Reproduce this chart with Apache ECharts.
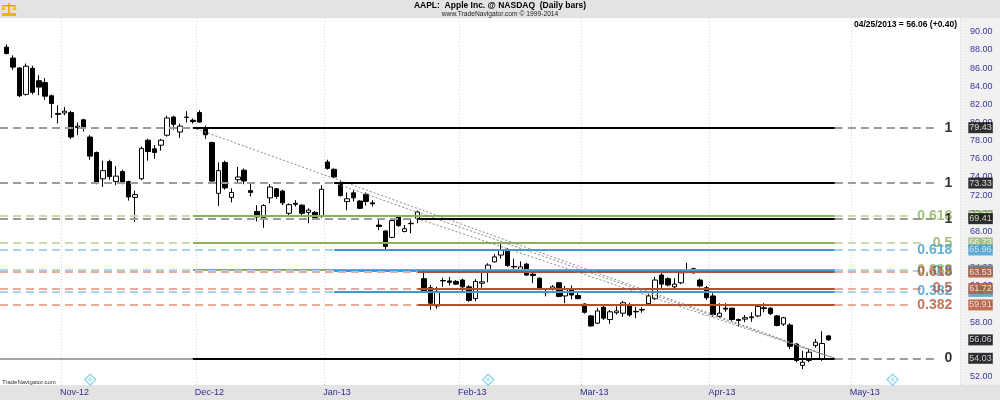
<!DOCTYPE html>
<html>
<head>
<meta charset="utf-8">
<script src="https://cdn.jsdelivr.net/npm/echarts@6/dist/echarts.min.js"></script>
<style>html,body{margin:0;padding:0;background:#fff}#c{width:1000px;height:400px}</style>
</head>
<body>
<div id="c"></div>
<script>
// ---------- data ----------
const tickerSymbol = 'AAPL';
const companyName = 'Apple Inc.';
const exchangeName = 'NASDAQ';
const barType = 'Daily bars';
const siteName = 'www.TradeNavigator.com';
const copyrightText = '\u00a9 1999-2014';
const brandText = 'TradeNavigator.com';

const sessionFirst = '2012-10-17';
const sessionLast = '2013-05-23';
const holidays = ['2012-10-29','2012-10-30','2012-11-22','2012-12-25','2013-01-01','2013-01-21','2013-02-18','2013-03-29','2013-05-27'];

const opens = [88.3,87.1,86.0,83.1,85.97,84.6,84.4,82.95,81.0,81.05,81.1,79.45,80.3,78.4,76.7,73.8,75.7,73.5,74.6,73.5,71.75,73.8,78.05,77.1,77.5,78.6,80.6,78.95,80.55,80.25,
81.1,79.43,77.8,72.2,75.6,71.75,73.7,74.75,72.5,70.2,69.5,71.7,72.7,72.45,70.0,71.1,70.9,70.1,70.1,69.75,
75.65,74.85,73.3,71.3,72.25,71.35,72.1,71.15,68.7,68.05,67.35,69.7,68.0,68.85,69.45,62.8,61.8,59.8,62.6,62.55,62.5,
62.65,61.9,60.6,62.3,63.6,64.65,65.4,65.85,64.15,63.8,64.4,63.3,62.85,61.3,61.7,62.35,60.9,61.55,60.95,
60.0,58.7,57.9,59.65,58.3,59.05,59.0,59.9,59.2,59.4,60.05,60.6,63.2,62.8,61.9,62.35,63.8,63.9,62.65,61.8,
60.9,58.65,59.55,59.55,58.3,58.35,58.5,58.7,59.5,59.55,58.7,57.8,57.7,55.6,53.25,53.8,55.45,54.0,56.5];
const closes = [87.6,86.1,82.95,86.2,83.33,83.9,82.9,82.1,80.9,81.25,78.4,79.6,79.35,76.3,73.45,74.7,74.05,74.1,73.4,71.8,72.05,77.15,76.8,76.7,78.05,80.5,79.8,79.6,80.6,80.1,
80.05,78.65,73.55,74.7,72.8,72.3,74.0,73.56,72.3,69.6,70.85,72.9,71.85,71.15,70.95,71.0,70.0,70.35,69.55,72.65,
74.95,74.0,71.95,71.6,71.7,70.55,71.3,71.05,68.55,66.35,69.2,68.65,68.3,68.9,70.15,61.45,60.1,61.4,62.55,62.4,62.2,
61.9,60.4,62.5,62.45,64.3,65.2,65.9,64.25,64.1,64.1,63.2,63.15,61.6,61.25,61.9,60.85,61.65,61.0,60.6,
59.1,57.6,59.25,58.45,59.15,59.25,60.15,58.8,59.15,59.35,60.9,62.65,62.2,62.1,62.2,63.45,63.7,63.45,62.0,60.7,
58.85,59.0,59.45,58.3,58.2,58.5,58.6,59.75,59.6,58.95,57.65,58.5,55.35,53.8,53.6,54.7,55.8,55.66,56.06];
const lows = [87.5,85.8,82.8,82.95,83.1,83.0,82.5,80.5,79.9,80.8,78.2,78.6,79.0,75.9,73.2,72.9,73.7,73.1,73.2,71.4,69.05,73.65,75.8,76.0,76.9,78.45,79.2,78.3,80.0,79.9,
80.0,78.2,73.4,70.8,72.6,71.2,73.4,73.2,71.85,69.1,68.4,71.1,71.6,70.9,69.8,70.75,69.8,68.9,69.45,69.5,
74.8,73.9,71.85,70.35,71.3,70.45,70.85,70.75,68.15,66.0,67.25,68.5,67.9,67.8,68.9,61.3,59.4,59.5,61.9,62.05,62.1,
61.2,60.25,60.3,61.8,62.4,64.6,65.0,64.1,63.7,63.75,63.1,62.3,61.55,60.85,61.5,60.75,60.1,60.5,60.55,
58.95,57.5,57.8,58.25,57.85,58.85,58.6,58.6,58.45,59.05,59.9,60.45,61.7,61.95,61.75,62.2,63.4,63.35,61.85,60.45,
58.6,58.5,59.15,58.15,57.55,58.0,58.05,58.55,59.1,58.8,57.55,57.6,55.05,53.6,52.85,53.6,55.2,53.75,55.95];
const highs = [88.6,87.4,86.1,86.5,86.26,85.2,84.9,83.1,81.9,81.7,81.3,80.0,80.4,78.6,76.8,75.8,75.9,75.2,74.8,73.6,72.5,77.35,78.2,77.5,78.2,80.75,80.75,79.9,81.25,80.45,
81.35,79.65,77.9,75.6,75.8,72.75,75.1,74.95,73.4,70.9,71.0,73.2,72.75,72.6,71.1,71.45,71.0,70.55,70.25,73.1,
75.9,74.95,73.6,72.3,72.55,71.45,72.3,71.45,69.25,68.15,69.4,69.8,68.7,69.25,70.3,63.5,62.1,61.9,62.9,63.0,62.65,
62.8,62.1,62.75,63.6,64.5,65.5,66.6,66.15,65.0,64.7,64.55,63.45,62.95,61.75,62.1,62.45,62.0,62.05,61.25,
60.1,58.8,59.6,59.8,59.35,59.75,60.35,60.15,59.7,59.65,61.1,63.0,63.4,62.95,62.85,63.6,64.55,64.0,62.8,62.0,
61.2,60.1,60.1,59.6,58.4,58.8,59.1,59.9,60.1,59.65,58.8,58.6,57.9,55.7,54.85,55.1,56.15,57.0,56.6];

const monthStarts = ['2012-11-01','2012-12-03','2013-01-02','2013-02-01','2013-03-01','2013-04-01','2013-05-01'];
const monthLabels = ['Nov-12','Dec-12','Jan-13','Feb-13','Mar-13','Apr-13','May-13'];
const priceTicks = [52,54,56,58,60,62,64,66,68,70,72,74,76,78,80,82,84,86,88,90];
const dividendDates = ['2012-11-07','2013-02-07','2013-05-09'];

// Fibonacci drawings (start date, "1" level, shared "0" level, common end)
const fibStarts = ['2012-11-30','2013-01-03','2013-01-23'];
const fibOneLevels = [79.43, 73.33, 69.41];
const fibZeroLevel = 54.03;
const fibEnd = '2013-04-26';
const fibRatioLabels = ['0.382','0.5','0.618'];
const greenLevels = [63.73, 66.73, 69.73];
const blueLevels = [61.40, 63.68, 65.96];
const redLevels = [59.91, 61.72, 63.53];

// ---------- build ----------
function tradingDays(a, b, hol) {
  const out = [];
  let t = Date.parse(a + 'T00:00:00Z');
  const e = Date.parse(b + 'T00:00:00Z');
  while (t <= e) {
    const d = new Date(t);
    const wd = d.getUTCDay();
    const iso = d.toISOString().slice(0, 10);
    if (wd !== 0 && wd !== 6 && hol.indexOf(iso) < 0) out.push(iso);
    t += 86400000;
  }
  return out;
}
const dates = tradingDays(sessionFirst, sessionLast, holidays);
const N = dates.length;
const firstDate = dates[0];
const lastDate = dates[N - 1];
const candles = dates.map((d, i) => i < opens.length ? [opens[i], closes[i], lows[i], highs[i]] : '-');

const FONT = '"Liberation Sans", Arial, sans-serif';
const DASH = [8, 5];
const GRAY = '#9c9c9c';
const C = {
  green: '#8cb05a', greenLight: '#c8dcaa', greenBox: '#95b56c',
  blue: '#3a9bcf', blueLight: '#a9d5ec', blueBox: '#3a9bcf',
  red: '#b5502e', redLight: '#e8ab96', redBox: '#b5532f'
};
const yMin = 51.09, yMax = 91.51;

function seg(a, b, style) { return [Object.assign({ lineStyle: style }, a), b]; }
function extEnd(label) {
  const k = label.length >= 4 ? 7 : (label.length === 3 ? 5 : 3);
  return dates[N - 1 - k];
}
function lineSeries(z, items) {
  return {
    type: 'scatter', data: [], z: z, silent: true,
    markLine: { silent: true, animation: false, symbol: ['none', 'none'], label: { show: false },
      lineStyle: { type: 'solid' }, emphasis: { disabled: true }, data: items }
  };
}
function fibGroup(start, levels, solid, light) {
  const items = [];
  levels.forEach((v, j) => {
    items.push(seg({ x: 0, coord: [firstDate, v] }, { coord: [start, v] }, { color: light, width: 2, type: DASH }));
    items.push(seg({ coord: [start, v] }, { coord: [fibEnd, v] }, { color: solid, width: 2, type: 'solid' }));
    items.push(seg({ coord: [fibEnd, v] }, { coord: [extEnd(fibRatioLabels[j]), v] }, { color: light, width: 2, type: DASH }));
  });
  return items;
}
const blackItems = [];
fibStarts.forEach((s, i) => {
  blackItems.push(seg({ coord: [s, fibOneLevels[i]] }, { coord: [fibEnd, fibZeroLevel] }, { color: '#8a8a8a', width: 1, type: [2, 2] }));
});
fibStarts.forEach((s, i) => {
  const v = fibOneLevels[i];
  blackItems.push(seg({ x: 0, coord: [firstDate, v] }, { coord: [s, v] }, { color: GRAY, width: 2, type: DASH }));
  blackItems.push(seg({ coord: [s, v] }, { coord: [fibEnd, v] }, { color: '#000', width: 2, type: 'solid' }));
  blackItems.push(seg({ coord: [fibEnd, v] }, { coord: [extEnd('1'), v] }, { color: GRAY, width: 2, type: DASH }));
});
blackItems.push(seg({ x: 0, coord: [firstDate, fibZeroLevel] }, { coord: [fibStarts[0], fibZeroLevel] }, { color: '#a5a5a5', width: 2, type: 'solid' }));
blackItems.push(seg({ coord: [fibStarts[0], fibZeroLevel] }, { coord: [fibEnd, fibZeroLevel] }, { color: '#000', width: 2, type: 'solid' }));
blackItems.push(seg({ coord: [fibEnd, fibZeroLevel] }, { coord: [extEnd('0'), fibZeroLevel] }, { color: GRAY, width: 2, type: DASH }));

function textItems(levels, labels, color) {
  return levels.map((v, j) => ({ value: [lastDate, v], label: { formatter: labels[j], color: color } }));
}
const levelTexts = [].concat(
  textItems(greenLevels, fibRatioLabels, C.green),
  textItems(blueLevels, fibRatioLabels, C.blue),
  textItems(redLevels, fibRatioLabels, C.red),
  fibOneLevels.map(v => ({ value: [lastDate, v], label: { formatter: '1', color: '#000' } })),
  [{ value: [lastDate, fibZeroLevel], label: { formatter: '0', color: '#000' } }]
);
function boxSeries(z, levels, bg) {
  return {
    type: 'scatter', z: z, silent: true, symbolSize: 1, itemStyle: { color: 'rgba(0,0,0,0)' },
    data: levels.map(v => ({ value: [lastDate, v], label: { formatter: v.toFixed(2) } })),
    label: { show: true, position: 'right', distance: 11, color: '#fff', backgroundColor: bg,
      fontFamily: FONT, fontSize: 9, lineHeight: 10, padding: [1, 1, 0, 1] }
  };
}
const lastClose = closes[closes.length - 1];
const change = lastClose - closes[closes.length - 2];
const lastBar = dates[closes.length - 1].split('-');
const quoteText = lastBar[1] + '/' + lastBar[2] + '/' + lastBar[0] + ' = ' + lastClose.toFixed(2) + ' (' + (change >= 0 ? '+' : '') + change.toFixed(2) + ')';

const chart = echarts.init(document.getElementById('c'), null, { renderer: 'canvas' });
chart.setOption({
  animation: false,
  backgroundColor: '#ffffff',
  textStyle: { fontFamily: FONT },
  grid: { left: 3.5, right: 40, top: 18, bottom: 15 },
  xAxis: {
    type: 'category', data: dates, boundaryGap: true,
    axisLine: { show: false }, axisTick: { show: false },
    axisLabel: {
      interval: (i) => monthStarts.indexOf(dates[i + 1]) >= 0,
      formatter: (v, i) => monthLabels[monthStarts.indexOf(dates[i + 1])],
      align: 'left', padding: [0, 0, 0, 2], margin: 3, color: '#2e2e8c', fontSize: 9, fontFamily: FONT
    },
    splitLine: { show: true, interval: (i) => monthStarts.indexOf(dates[i]) >= 0,
      lineStyle: { color: '#d2d2d2', width: 1, type: [1, 2] } }
  },
  yAxis: {
    type: 'value', position: 'right', min: yMin, max: yMax, scale: true,
    axisLine: { show: false }, axisTick: { show: false }, splitLine: { show: false },
    axisLabel: { customValues: priceTicks, formatter: (v) => v.toFixed(2), color: '#36369a', fontSize: 9, margin: 10, fontFamily: FONT }
  },
  graphic: [
    { type: 'rect', z: -10, shape: { x: 0, y: 0, width: 1000, height: 18 }, style: { fill: '#e3e3e3' } },
    { type: 'rect', z: -10, shape: { x: 960, y: 18, width: 40, height: 367 }, style: { fill: '#f1f1f1' } },
    { type: 'rect', z: -10, shape: { x: 0, y: 385, width: 1000, height: 15 }, style: { fill: '#e3e3e3' } },
    { type: 'group', z: 50, children: [
      { type: 'rect', shape: { x: 2, y: 13, width: 14, height: 3 }, style: { fill: '#e6b800' } },
      { type: 'rect', shape: { x: 8, y: 3, width: 2, height: 11 }, style: { fill: '#e6b800' } },
      { type: 'rect', shape: { x: 2, y: 5, width: 14, height: 1.5 }, style: { fill: '#d9a800' } },
      { type: 'polygon', shape: { points: [[1, 10], [6, 10], [3.5, 6]] }, style: { fill: '#f0c400' } },
      { type: 'polygon', shape: { points: [[12, 10], [17, 10], [14.5, 6]] }, style: { fill: '#f0c400' } }
    ] },
    { type: 'text', z: 50, x: 500, y: 5.5, style: { text: tickerSymbol + ':  ' + companyName + ' @ ' + exchangeName + '  (' + barType + ')',
      font: 'bold 8.5px ' + FONT, fill: '#000', textAlign: 'center', textVerticalAlign: 'middle' } },
    { type: 'text', z: 50, x: 500, y: 14.5, style: { text: siteName + ' ' + copyrightText,
      font: '6.7px ' + FONT, fill: '#222', textAlign: 'center', textVerticalAlign: 'middle' } },
    { type: 'text', z: 50, x: 957, y: 25, style: { text: quoteText,
      font: 'bold 8.5px ' + FONT, fill: '#000', textAlign: 'right', textVerticalAlign: 'middle' } },
    { type: 'text', z: 50, x: 2, y: 382, style: { text: brandText,
      font: '6px ' + FONT, fill: '#333', textAlign: 'left', textVerticalAlign: 'middle' } }
  ],
  series: [
    { type: 'candlestick', data: candles, z: 2, barWidth: 5, silent: true,
      itemStyle: { color: '#ffffff', color0: '#000000', borderColor: '#000000', borderColor0: '#000000', borderColorDoji: '#000000', borderWidth: 1 } },
    lineSeries(3, fibGroup(fibStarts[0], greenLevels, C.green, C.greenLight)),
    lineSeries(4, fibGroup(fibStarts[1], blueLevels, C.blue, C.blueLight)),
    lineSeries(5, fibGroup(fibStarts[2], redLevels, C.red, C.redLight)),
    lineSeries(6, blackItems),
    { type: 'scatter', z: 7, silent: true, symbolSize: 1, itemStyle: { color: 'rgba(0,0,0,0)' }, data: levelTexts,
      label: { show: true, position: 'left', distance: 4, fontSize: 14, fontWeight: 'bold', fontFamily: FONT } },
    boxSeries(8, greenLevels, C.greenBox),
    boxSeries(9, blueLevels, C.blueBox),
    boxSeries(10, redLevels, C.redBox),
    boxSeries(11, fibOneLevels.concat([lastClose, fibZeroLevel]), '#000000'),
    { type: 'scatter', z: 7, silent: true, symbol: 'diamond', symbolSize: 11,
      data: dividendDates.map(d => [d, yMin + 0.6]),
      itemStyle: { color: 'rgba(255,255,255,0)', borderColor: '#5cc6e8', borderWidth: 1.2 } },
    { type: 'scatter', z: 7, silent: true, symbol: 'diamond', symbolSize: 5,
      data: dividendDates.map(d => [d, yMin + 0.6]),
      itemStyle: { color: '#a6e0f2' } }
  ]
});
</script>
</body>
</html>
